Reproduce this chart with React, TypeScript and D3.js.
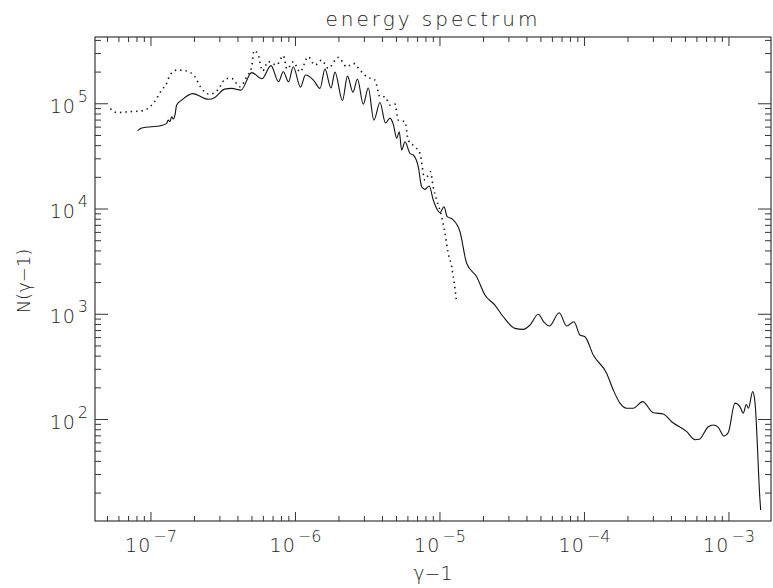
import { useEffect, useRef } from 'react'
import * as d3 from 'd3'

// solid curve: N(gamma-1) vs gamma-1
const solidX = [
  8.09e-8, 8.63e-8, 1.186e-7, 1.284e-7, 1.317e-7, 1.354e-7, 1.391e-7, 1.431e-7, 1.466e-7, 1.506e-7,
  1.632e-7, 1.944e-7, 2.5e-7, 2.77e-7, 3.23e-7, 3.62e-7, 4.2e-7, 4.98e-7, 5.86e-7, 6.77e-7,
  7.63e-7, 8.24e-7, 8.95e-7, 9.66e-7, 1.083e-6, 1.173e-6, 1.332e-6, 1.478e-6, 1.601e-6, 1.761e-6,
  1.877e-6, 2.115e-6, 2.29e-6, 2.5e-6, 2.686e-6, 2.946e-6, 3.19e-6, 3.49e-6, 3.845e-6, 4.2e-6,
  4.51e-6, 4.75e-6, 5.02e-6, 5.23e-6, 5.43e-6, 5.73e-6, 6.2e-6, 6.54e-6, 7.08e-6, 7.47e-6,
  7.87e-6, 8.43e-6, 8.99e-6, 1.0e-5, 1.066e-5, 1.123e-5, 1.224e-5, 1.375e-5, 1.53e-5, 1.795e-5,
  2.048e-5, 2.4e-5, 2.742e-5, 3.3e-5, 3.77e-5, 4.2e-5, 4.79e-5, 5.24e-5, 5.71e-5, 6.69e-5,
  7.53e-5, 8.46e-5, 9.31e-5, 1.008e-4, 1.151e-4, 1.424e-4, 1.582e-4, 1.761e-4, 1.959e-4, 2.176e-4,
  2.527e-4, 2.993e-4, 3.51e-4, 4.01e-4, 5.1e-4, 5.82e-4, 6.23e-4, 7.19e-4, 7.79e-4, 8.43e-4,
  9.23e-4, 9.89e-4, 1.1e-3, 1.192e-3, 1.256e-3, 1.317e-3, 1.364e-3, 1.459e-3, 1.513e-3, 1.639e-3,
  1.657e-3,
]
const solidY = [
  5.56e4, 5.88e4, 6.23e4, 6.51e4, 7.0e4, 6.77e4, 7.52e4, 7.16e4, 7.81e4, 9.72e4,
  1.084e5, 1.25e5, 1.103e5, 1.15e5, 1.379e5, 1.4e5, 1.349e5, 1.979e5, 1.728e5, 2.306e5,
  1.618e5, 2.014e5, 1.618e5, 2.246e5, 1.441e5, 1.874e5, 1.68e5, 1.4e5, 2.136e5, 1.41e5,
  2.0e5, 1.073e5, 1.833e5, 1.291e5, 1.717e5, 9.93e4, 1.41e5, 7.0e4, 1.027e5, 6.56e4,
  7.31e4, 6.41e4, 4.72e4, 5.42e4, 3.63e4, 4.36e4, 3.38e4, 3.26e4, 2.52e4, 1.627e4,
  1.538e4, 1.653e4, 1.217e4, 9.22e3, 1.051e4, 8.45e3, 7.98e3, 6.11e3, 3.05e3, 2.27e3,
  1.523e3, 1.224e3, 947, 735, 719, 790, 999, 844, 773, 1034,
  773, 849, 635, 612, 410, 275, 191, 143, 128, 128,
  148, 116, 113, 95.3, 76.6, 64.3, 64.9, 85.5, 88.7, 84.3,
  69.7, 75.3, 143, 132, 115, 139, 128, 184, 147, 17.2,
  13.8,
]

// dotted curve
const dottedX = [
  5.24e-8, 5.79e-8, 6.97e-8, 8.39e-8, 9.38e-8, 1.049e-7, 1.186e-7, 1.284e-7, 1.354e-7, 1.513e-7,
  1.719e-7, 2.016e-7, 2.2e-7, 2.52e-7, 2.77e-7, 3.0e-7, 3.3e-7, 3.62e-7, 4.13e-7, 4.6e-7,
  4.98e-7, 5.16e-7, 5.53e-7, 5.91e-7, 6.48e-7, 7.41e-7, 8.24e-7, 8.74e-7, 9.66e-7, 1.074e-6,
  1.226e-6, 1.364e-6, 1.518e-6, 1.687e-6, 1.978e-6, 2.262e-6, 2.512e-6, 2.795e-6, 3.11e-6, 3.55e-6,
  3.845e-6, 4.164e-6, 4.51e-6, 4.88e-6, 5.14e-6, 5.73e-6, 6.03e-6, 6.71e-6, 7.27e-6, 7.87e-6,
  8.6e-6, 8.95e-6, 9.49e-6, 1.028e-5, 1.083e-5, 1.141e-5, 1.205e-5, 1.256e-5, 1.305e-5,
]
const dottedY = [
  9.0e4, 8.25e4, 8.4e4, 8.52e4, 8.91e4, 1.027e5, 1.349e5, 1.563e5, 1.874e5, 2.09e5,
  2.067e5, 1.805e5, 1.45e5, 1.236e5, 1.272e5, 1.45e5, 1.736e5, 1.743e5, 1.45e5, 1.805e5,
  2.246e5, 3.2e5, 2.9e5, 2.045e5, 2.517e5, 2.331e5, 2.87e5, 2.136e5, 2.506e5, 2.014e5,
  2.796e5, 2.331e5, 2.6e5, 2.17e5, 2.76e5, 2.246e5, 2.42e5, 2.09e5, 1.805e5, 1.68e5,
  1.166e5, 1.166e5, 9.72e4, 9.93e4, 7.0e4, 6.75e4, 4.52e4, 3.9e4, 3.38e4, 1.885e4,
  2.26e4, 1.653e4, 1.217e4, 8.45e3, 5.87e3, 3.79e3, 2.83e3, 1.967e3, 1.287e3,
]

const xDecades = [-7, -6, -5, -4, -3]
const yDecades = [2, 3, 4, 5]
const minorSteps = [2, 3, 4, 5, 6, 7, 8, 9]

export default function App() {
  const svgRef = useRef<SVGSVGElement>(null)

  useEffect(() => {
    const svg = d3.select(svgRef.current)
    svg.selectAll('*').remove()

    const width = 773
    const height = 588
    const margin = { top: 37, right: 2, bottom: 67, left: 95 }
    const font = "'DejaVu Sans', sans-serif"
    const ink = '#111'
    const textInk = '#1a1a1a'

    const x = d3.scaleLog()
      .domain([4.1e-8, 1.954e-3])
      .range([margin.left, width - margin.right])
    const y = d3.scaleLog()
      .domain([10.86, 4.31e5])
      .range([height - margin.bottom, margin.top])

    const [x0, x1] = x.range()
    const [y0, y1] = y.range()

    // minor tick values inside the domain
    const xMinor: number[] = []
    for (let d = -8; d <= -3; d++) minorSteps.forEach(m => {
      const v = m * Math.pow(10, d)
      if (v > x.domain()[0] && v < x.domain()[1]) xMinor.push(v)
    })
    const yMinor: number[] = []
    for (let d = 1; d <= 5; d++) minorSteps.forEach(m => {
      const v = m * Math.pow(10, d)
      if (v > y.domain()[0] && v < y.domain()[1]) yMinor.push(v)
    })

    const g = svg.append('g')

    // frame
    g.append('rect')
      .attr('x', x0).attr('y', y1)
      .attr('width', x1 - x0).attr('height', y0 - y1)
      .attr('fill', 'none').attr('stroke', ink).attr('stroke-width', 1)

    const ticks = g.append('g').attr('stroke', '#333').attr('stroke-width', 1)

    // x ticks, bottom and top
    const xTick = (v: number, len: number) => {
      ticks.append('line').attr('x1', x(v)).attr('x2', x(v)).attr('y1', y0).attr('y2', y0 - len)
      ticks.append('line').attr('x1', x(v)).attr('x2', x(v)).attr('y1', y1).attr('y2', y1 + len)
    }
    xDecades.forEach(d => xTick(Math.pow(10, d), 9))
    xMinor.forEach(v => xTick(v, 5))

    // y ticks, left and right
    const yTick = (v: number, len: number) => {
      ticks.append('line').attr('y1', y(v)).attr('y2', y(v)).attr('x1', x0).attr('x2', x0 + len)
      ticks.append('line').attr('y1', y(v)).attr('y2', y(v)).attr('x1', x1).attr('x2', x1 - len)
    }
    yDecades.forEach(d => yTick(Math.pow(10, d), 13))
    yMinor.forEach(v => yTick(v, 6))

    // x tick labels
    xDecades.forEach(d => {
      const t = g.append('text')
        .attr('x', x(Math.pow(10, d)))
        .attr('y', y0 + 31)
        .attr('text-anchor', 'middle')
        .attr('font-family', font)
        .attr('font-weight', 200)
        .attr('fill', textInk)
      t.append('tspan').attr('font-size', 19).attr('letter-spacing', 1).text('10')
      t.append('tspan').attr('font-size', 16).attr('dy', -10).attr('dx', 2).text(`\u2212${-d}`)
    })

    // y tick labels
    yDecades.forEach(d => {
      const t = g.append('text')
        .attr('x', x0 - 7)
        .attr('y', y(Math.pow(10, d)) + 9)
        .attr('text-anchor', 'end')
        .attr('font-family', font)
        .attr('font-weight', 200)
        .attr('fill', textInk)
      t.append('tspan').attr('font-size', 19).attr('letter-spacing', 1).text('10')
      t.append('tspan').attr('font-size', 16).attr('dy', -11).attr('dx', 2).text(`${d}`)
    })

    // curves
    const line = d3.line<[number, number]>()
      .x(d => x(d[0]))
      .y(d => y(d[1]))
      .curve(d3.curveMonotoneX)

    const solid = solidX.map((v, i) => [v, solidY[i]] as [number, number])
    const dotted = dottedX.map((v, i) => [v, dottedY[i]] as [number, number])

    g.append('path')
      .attr('d', line(dotted))
      .attr('fill', 'none')
      .attr('stroke', '#111')
      .attr('stroke-width', 1.6)
      .attr('stroke-dasharray', '1.4,4')

    g.append('path')
      .attr('d', line(solid))
      .attr('fill', 'none')
      .attr('stroke', '#111')
      .attr('stroke-width', 1.1)

    // titles
    g.append('text')
      .attr('x', (x0 + x1) / 2)
      .attr('y', 26)
      .attr('text-anchor', 'middle')
      .attr('font-family', font)
      .attr('font-weight', 200)
      .attr('font-size', 20)
      .attr('letter-spacing', 3)
      .attr('fill', textInk)
      .text('energy spectrum')

    g.append('text')
      .attr('x', (x0 + x1) / 2)
      .attr('y', 580)
      .attr('text-anchor', 'middle')
      .attr('font-family', font)
      .attr('font-weight', 200)
      .attr('font-size', 19)
      .attr('fill', textInk)
      .text('\u03b3\u22121')

    g.append('text')
      .attr('transform', `translate(30,${(y0 + y1) / 2 + 2}) rotate(-90)`)
      .attr('text-anchor', 'middle')
      .attr('font-family', font)
      .attr('font-weight', 200)
      .attr('font-size', 18)
      .attr('fill', textInk)
      .text('N(\u03b3\u22121)')
  }, [])

  return (
    <svg
      ref={svgRef}
      width={773}
      height={588}
      style={{ position: 'absolute', left: 0, top: 0, background: '#fff' }}
    />
  )
}
